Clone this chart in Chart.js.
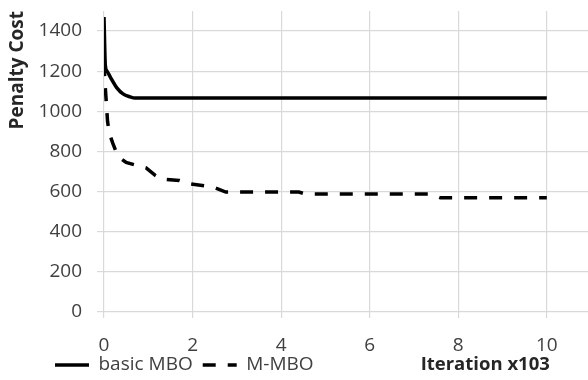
<!DOCTYPE html>
<html>
<head>
<meta charset="utf-8">
<script src="https://cdn.jsdelivr.net/npm/chart.js@4/dist/chart.umd.min.js"></script>
<style>
  html, body { margin: 0; padding: 0; background: #fff; }
  #wrap { width: 588px; height: 380px; }
</style>
</head>
<body>
<div id="wrap"><canvas id="myChart"></canvas></div>
<script>
// values (x in thousands of iterations)
var basicX = [0, 0.03, 0.07, 0.14, 0.29, 0.43, 0.59, 0.7, 10];
var basicY = [1470, 1230, 1200, 1172, 1117, 1087, 1072, 1066, 1066];
var mmboX = [0, 0.02, 0.05, 0.08, 0.12, 0.2, 0.28, 0.38, 0.5, 0.75, 0.95, 1.15, 1.3, 1.7, 1.9, 2.3, 2.5, 2.75, 4.4, 4.55, 7.35, 7.6, 10];
var mmboY = [1240, 1150, 1050, 950, 890, 840, 795, 765, 745, 730, 718, 682, 662, 655, 640, 628, 620, 598, 598, 588, 588, 569, 569];
var seriesNames = ['basic MBO', 'M-MBO'];
var xTicks = [0, 2, 4, 6, 8, 10];
var yTicks = [0, 200, 400, 600, 800, 1000, 1200, 1400];

function pts(xs, ys) {
  return xs.map(function (x, i) { return { x: x, y: ys[i] }; });
}

Chart.defaults.font.family = "'Open Sans', sans-serif";
Chart.defaults.color = '#404040';

// Excel placed the legend and the axis title by hand on one row
var bottomRow = {
  id: 'bottomRow',
  afterLayout: function (chart) {
    chart.legend.left = 45;
    chart.legend.top -= 7.5;
  },
  afterDraw: function (chart) {
    var ctx = chart.ctx;
    var lg = chart.legend;
    ctx.save();
    ctx.font = "bold 18.5px 'Open Sans', sans-serif";
    ctx.fillStyle = '#262626';
    ctx.textAlign = 'right';
    ctx.textBaseline = 'middle';
    ctx.fillText('Iteration x103', chart.scales.x.getPixelForValue(10) + 3, lg.top + 10 + 9.5);
    ctx.restore();
  }
};

var ctx = document.getElementById('myChart');
var myChart = new Chart(ctx, {
  type: 'line',
  data: {
    datasets: [{
      label: seriesNames[0],
      data: pts(basicX, basicY),
      borderColor: '#000',
      borderWidth: 3.5,
      pointRadius: 0,
      cubicInterpolationMode: 'monotone'
    }, {
      label: seriesNames[1],
      data: pts(mmboX, mmboY),
      borderColor: '#000',
      borderWidth: 3.5,
      borderDash: [13, 12],
      pointRadius: 0,
      tension: 0
    }]
  },
  options: {
    responsive: true,
    maintainAspectRatio: false,
    animation: false,
    layout: { padding: 0 },
    plugins: {
      legend: {
        position: 'bottom',
        align: 'start',
        maxHeight: 27,
        labels: {
          usePointStyle: true,
          pointStyle: 'line',
          pointStyleWidth: 34,
          padding: 10,
          color: '#404040',
          font: { size: 19 },
          generateLabels: function (chart) {
            var items = Chart.defaults.plugins.legend.labels.generateLabels(chart);
            items.forEach(function (it) {
              var ds = chart.data.datasets[it.datasetIndex];
              it.lineDash = ds.borderDash || [];
              it.lineWidth = ds.borderWidth;
              it.strokeStyle = ds.borderColor;
              it.pointStyle = 'line';
            });
            return items;
          }
        }
      },
      tooltip: { enabled: false }
    },
    scales: {
      x: {
        type: 'linear',
        min: 0,
        max: 10.93,
        afterBuildTicks: function (s) {
          s.ticks = xTicks.map(function (v) { return { value: v }; });
        },
        afterFit: function (s) { s.height = 41; },
        ticks: {
          padding: 16.5, maxRotation: 0, font: { size: 19 }, color: '#404040',
          callback: function (v) { return String(v); }
        },
        grid: { color: '#d9d9d9', lineWidth: 1.2, tickLength: 6 },
        border: { display: false }
      },
      y: {
        min: 0,
        max: 1500,
        afterBuildTicks: function (s) {
          s.ticks = yTicks.map(function (v) { return { value: v }; });
        },
        afterFit: function (s) {
          s.width = 104;
          s.paddingTop = 11;
          s.paddingBottom = 0;
        },
        ticks: {
          padding: 15, font: { size: 19 }, color: '#404040',
          callback: function (v) { return String(v); }
        },
        grid: { color: '#d9d9d9', lineWidth: 1.2, tickLength: 7 },
        border: { display: false },
        title: {
          display: true,
          text: 'Penalty Cost',
          align: 'end',
          color: '#262626',
          padding: { top: 6, bottom: 0 },
          font: { size: 19, weight: 'bold' }
        }
      }
    }
  },
  plugins: [bottomRow]
});
</script>
</body>
</html>
